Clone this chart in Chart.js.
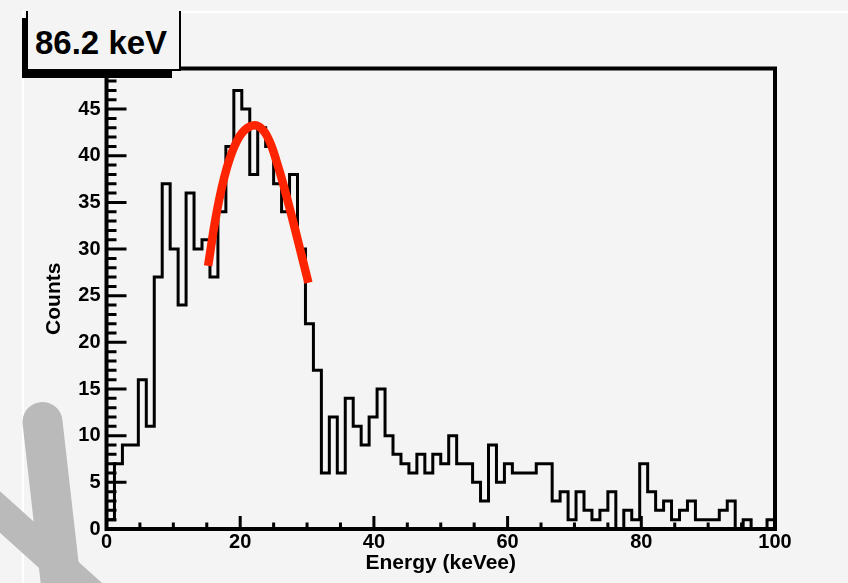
<!DOCTYPE html>
<html>
<head>
<meta charset="utf-8">
<title>86.2 keV</title>
<script src="https://cdn.jsdelivr.net/npm/chart.js@4.4.1/dist/chart.umd.min.js"></script>
<style>
  html, body { margin: 0; padding: 0; background: #f4f4f4; }
  #wrap { position: relative; width: 848px; height: 583px; overflow: hidden; }
  #c { position: absolute; left: 0; top: 0; }
  .shade { position: absolute; background: #000; }
  #tag {
    position: absolute; left: 26px; top: 11px; width: 155px; height: 60px;
    box-sizing: border-box; border: 2px solid #000; border-top: none;
    background: #f4f4f4;
  }
  #tag span {
    position: absolute; left: 7px; top: 13px; line-height: 1;
    font: bold 33px "Liberation Sans", Arial, Helvetica, sans-serif; color: #000;
    white-space: nowrap;
  }
</style>
</head>
<body>
<div id="wrap">
  <canvas id="c" width="848" height="583"></canvas>
  <div class="shade" style="left:22px; top:18px; width:6px; height:60px;"></div>
  <div class="shade" style="left:22px; top:70px; width:150px; height:8px;"></div>
  <div id="tag"><span>86.2 keV</span></div>
</div>
<script>
// Energy spectrum: equal-width bins spanning 0 to 100 keVee
const E_MIN = 0;
const E_MAX = 100;
const counts = [
  1, 7, 9, 9, 16, 11, 27, 37, 30, 24,
  36, 30, 31, 27, 34, 41, 47, 45, 38, 43,
  41, 37, 34, 38, 30, 22, 17, 6, 12, 6,
  14, 11, 9, 12, 15, 10, 8, 7, 6, 8,
  6, 8, 7, 10, 7, 7, 5, 3, 9, 5,
  7, 6, 6, 6, 7, 7, 3, 4, 1, 4,
  2, 1, 2, 4, 0, 2, 1, 7, 4, 2,
  3, 1, 2, 3, 1, 1, 1, 2, 3, 0,
  1, 0, 0, 1
];
const BIN_WIDTH = (E_MAX - E_MIN) / counts.length;

// Gaussian fit over the peak, sampled along the drawn curve
const fitEnergy = [15.2, 16.5, 18.0, 19.6, 21.1, 22.6, 24.1, 25.6, 27.1, 28.6, 30.2];
const fitCounts = [28.2, 34.0, 38.7, 41.7, 43.0, 43.2, 42.0, 39.0, 35.2, 31.0, 26.4];

const xTickValues = [0, 20, 40, 60, 80, 100];
const yTickValues = [0, 5, 10, 15, 20, 25, 30, 35, 40, 45];

const FONT = '"Liberation Sans", Arial, Helvetica, sans-serif';

// histogram outline: each bin holds its value from its low edge to the next edge
const histPoints = [{ x: E_MIN, y: 0 }];
counts.forEach((c, i) => histPoints.push({ x: E_MIN + i * BIN_WIDTH, y: c }));
histPoints.push({ x: E_MAX, y: counts[counts.length - 1] });

const fitPoints = fitEnergy.map((e, i) => ({ x: e, y: fitCounts[i] }));

// pad background, pad edge highlights and the grey brush stroke at lower left
const padBackground = {
  id: 'padBackground',
  beforeDraw(chart) {
    const { ctx, width, height } = chart;
    ctx.save();
    ctx.fillStyle = '#f4f4f4';
    ctx.fillRect(0, 0, width, height);
    ctx.fillStyle = '#ffffff';
    ctx.fillRect(22, 11, width - 22, 2);
    ctx.fillRect(22, 11, 2, height - 11);
    ctx.strokeStyle = '#bababa';
    ctx.lineCap = 'round';
    ctx.lineWidth = 40;
    ctx.beginPath();
    ctx.moveTo(42.5, 422);
    ctx.lineTo(65, 620);
    ctx.stroke();
    ctx.lineCap = 'butt';
    ctx.lineWidth = 31;
    ctx.beginPath();
    ctx.moveTo(-20, 494);
    ctx.lineTo(110, 611);
    ctx.stroke();
    ctx.restore();
  }
};

// frame box with inward tick marks, as on a ROOT canvas
const frameTicks = {
  id: 'frameTicks',
  afterDatasetsDraw(chart) {
    const { ctx, chartArea: a, scales: { x, y } } = chart;
    ctx.save();
    ctx.strokeStyle = '#000';
    ctx.lineWidth = 3;
    ctx.beginPath();
    for (let v = 0; v <= y.max; v += 1) {
      const py = y.getPixelForValue(v);
      const len = v % 5 === 0 ? 20 : 10;
      ctx.moveTo(a.left, py);
      ctx.lineTo(a.left + len, py);
    }
    for (let v = 0; v <= x.max; v += 5) {
      const px = x.getPixelForValue(v);
      const len = v % 20 === 0 ? 13 : 6.5;
      ctx.moveTo(px, a.bottom);
      ctx.lineTo(px, a.bottom - len);
    }
    ctx.stroke();
    ctx.lineWidth = 4;
    ctx.strokeRect(a.left, a.top, a.right - a.left, a.bottom - a.top);
    ctx.restore();
  }
};

new Chart(document.getElementById('c'), {
  type: 'line',
  data: {
    datasets: [
      {
        label: 'fit',
        data: fitPoints,
        borderColor: '#ff2400',
        borderWidth: 8.5,
        borderCapStyle: 'butt',
        pointRadius: 0,
        tension: 0.4,
        fill: false,
        order: 0
      },
      {
        label: 'counts',
        data: histPoints,
        stepped: 'before',
        borderColor: '#000000',
        borderWidth: 3,
        pointRadius: 0,
        fill: false,
        order: 1
      }
    ]
  },
  options: {
    responsive: false,
    devicePixelRatio: 1,
    animation: false,
    events: [],
    layout: { padding: { top: 68.5, right: 73, bottom: 0, left: 0 } },
    plugins: { legend: { display: false }, tooltip: { enabled: false }, title: { display: false } },
    scales: {
      x: {
        type: 'linear',
        min: E_MIN,
        max: E_MAX,
        afterFit(scale) { scale.height = 54; },
        afterBuildTicks(scale) { scale.ticks = xTickValues.map(v => ({ value: v })); },
        grid: { display: false, drawTicks: false },
        border: { display: false },
        ticks: {
          padding: 1,
          color: '#000',
          maxRotation: 0,
          font: { family: FONT, size: 20, weight: 'bold' }
        },
        title: {
          display: true,
          text: 'Energy (keVee)',
          color: '#000',
          font: { family: FONT, size: 21, weight: 'bold' },
          padding: { top: 0, bottom: 7 }
        }
      },
      y: {
        type: 'linear',
        min: 0,
        max: 49.35,
        afterFit(scale) { scale.width = 106.5; },
        afterBuildTicks(scale) { scale.ticks = yTickValues.map(v => ({ value: v })); },
        grid: { display: false, drawTicks: false },
        border: { display: false },
        ticks: {
          padding: 6,
          color: '#000',
          font: { family: FONT, size: 20, weight: 'bold' }
        },
        title: {
          display: true,
          text: 'Counts',
          color: '#000',
          font: { family: FONT, size: 21, weight: 'bold' },
          padding: { top: 42, bottom: 0 }
        }
      }
    }
  },
  plugins: [padBackground, frameTicks]
});
</script>
</body>
</html>
